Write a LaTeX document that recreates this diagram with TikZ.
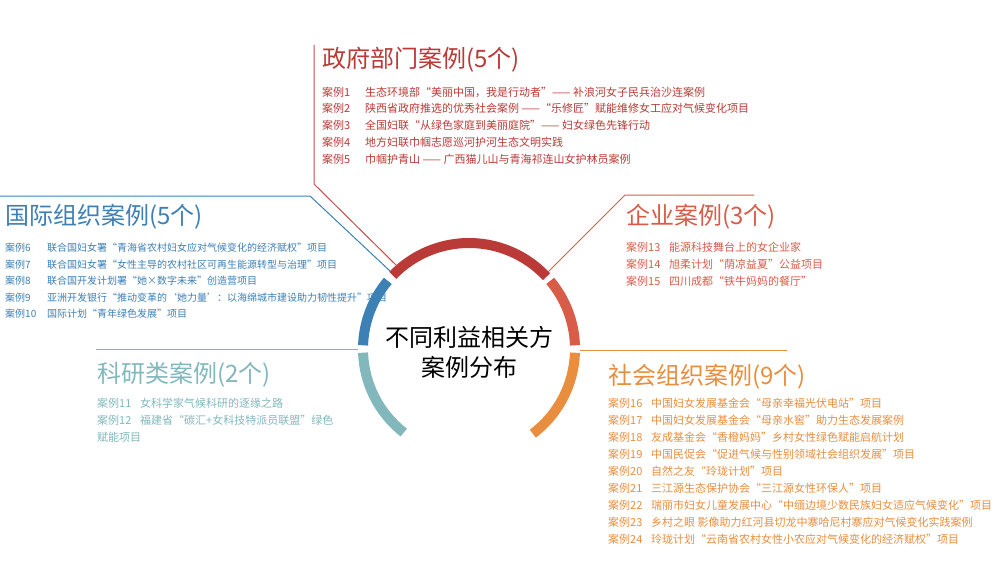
\documentclass[tikz,border=0pt]{standalone}
\usepackage{fontspec}
\usetikzlibrary{calc}
\setmainfont{Noto Sans CJK SC}
\definecolor{cgov}{HTML}{B93A36}
\definecolor{cent}{HTML}{D85C48}
\definecolor{csoc}{HTML}{E98E3E}
\definecolor{cint}{HTML}{3D80B6}
\definecolor{cres}{HTML}{82B8BC}
\definecolor{cgovl}{HTML}{C0504D}
\tikzset{
  ttl/.style={anchor=base west,inner sep=0pt,font=\fontsize{24}{24}\selectfont},
  cse/.style={anchor=base west,inner sep=0pt,font=\fontsize{11}{12}\selectfont},
  csesm/.style={anchor=base west,inner sep=0pt,font=\fontsize{10}{12}\selectfont},
  conn/.style={line width=1pt},
  seg/.style={line width=10pt}
}
\newcommand{\cs}[2]{\makebox[43pt][l]{#1}#2}
\newcommand{\csi}[2]{\makebox[42pt][l]{#1}#2}
\begin{document}
\begin{tikzpicture}[x=1pt,y=-1pt]
\useasboundingbox[fill=white] (0,0) rectangle (999,581);
\coordinate (c) at (469,349);
% ring
\draw[seg,cgov] ($(c)+(-43:106)$) arc[start angle=-43,end angle=-136,radius=106];
\draw[seg,cint] ($(c)+(-140:106)$) arc[start angle=-140,end angle=-178,radius=106];
\draw[seg,cres] ($(c)+(-182:106)$) arc[start angle=-182,end angle=-232,radius=106];
\draw[seg,csoc] ($(c)+(2:106)$) arc[start angle=2,end angle=53,radius=106];
\draw[seg,cent] ($(c)+(-2:106)$) arc[start angle=-2,end angle=-40,radius=106];
\node[font=\fontsize{24}{30}\selectfont,align=center] (center) at (469,352) {不同利益相关方\\案例分布};
% connectors
\coordinate (g1) at (314,45); \coordinate (g2) at (314,184); \coordinate (g3) at (397,266);
\draw[conn,cgovl] (g1) -- (g2) -- (g3);
\coordinate (i1) at (0,196); \coordinate (i2) at (310,196); \coordinate (i3) at (390,271);
\draw[conn,cint] (i1) -- (i2) -- (i3);
\coordinate (e1) at (548,272); \coordinate (e2) at (625,195); \coordinate (e3) at (754,195);
\draw[conn,cent] (e1) -- (e2) -- (e3);
\coordinate (s1) at (580,350); \coordinate (s2) at (787,350);
\draw[conn,csoc] (s1) -- (s2);
\coordinate (r1) at (358,349); \coordinate (r2) at (96,349);
\draw[conn,cres] (r1) -- (r2);
% government
\node[ttl,cgov] (gt) at (322,67) {政府部门案例(5个)};
\begin{scope}[every node/.style={cse,cgov}]
\node (g01) at (322,96) {\cs{案例1}{生态环境部“美丽中国，我是行动者”—— 补浪河女子民兵治沙连案例}};
\node (g02) at (322,112) {\cs{案例2}{陕西省政府推选的优秀社会案例 ——“乐修匠”赋能维修女工应对气候变化项目}};
\node (g03) at (322,129) {\cs{案例3}{全国妇联“从绿色家庭到美丽庭院”—— 妇女绿色先锋行动}};
\node (g04) at (322,146) {\cs{案例4}{地方妇联巾帼志愿巡河护河生态文明实践}};
\node (g05) at (322,163) {\cs{案例5}{巾帼护青山 —— 广西猫儿山与青海祁连山女护林员案例}};
\end{scope}
% international
\node[ttl,cint] (it) at (5,224) {国际组织案例(5个)};
\begin{scope}[every node/.style={csesm,cint}]
\node (i06) at (5,251) {\csi{案例6}{联合国妇女署“青海省农村妇女应对气候变化的经济赋权”项目}};
\node (i07) at (5,268) {\csi{案例7}{联合国妇女署“女性主导的农村社区可再生能源转型与治理”项目}};
\node (i08) at (5,284) {\csi{案例8}{联合国开发计划署“她×数字未来”创造营项目}};
\node (i09) at (5,301) {\csi{案例9}{亚洲开发银行“推动变革的‘她力量’：以海绵城市建设助力韧性提升”项目}};
\node (i10) at (5,317) {\csi{案例10}{国际计划“青年绿色发展”项目}};
\end{scope}
% enterprise
\node[ttl,cent] (et) at (626,224) {企业案例(3个)};
\begin{scope}[every node/.style={cse,cent}]
\node (e13) at (626,251) {\cs{案例13}{能源科技舞台上的女企业家}};
\node (e14) at (626,268) {\cs{案例14}{旭柔计划“荫凉益夏”公益项目}};
\node (e15) at (626,285) {\cs{案例15}{四川成都“铁牛妈妈的餐厅”}};
\end{scope}
% research
\node[ttl,cres] (rt) at (97,382) {科研类案例(2个)};
\begin{scope}[every node/.style={cse,cres}]
\node (r11) at (97,407) {\cs{案例11}{女科学家气候科研的逐缘之路}};
\node (r12) at (97,424) {\cs{案例12}{福建省“碳汇+女科技特派员联盟”绿色}};
\node (r12b) at (97,441) {赋能项目};
\end{scope}
% social
\node[ttl,csoc] (st) at (608,384) {社会组织案例(9个)};
\begin{scope}[every node/.style={cse,csoc}]
\node (s16) at (608,407) {\cs{案例16}{中国妇女发展基金会“母亲幸福光伏电站”项目}};
\node (s17) at (608,424) {\cs{案例17}{中国妇女发展基金会“母亲水窖”助力生态发展案例}};
\node (s18) at (608,441) {\cs{案例18}{友成基金会“香橙妈妈”乡村女性绿色赋能启航计划}};
\node (s19) at (608,458) {\cs{案例19}{中国民促会“促进气候与性别领域社会组织发展”项目}};
\node (s20) at (608,475) {\cs{案例20}{自然之友“玲珑计划”项目}};
\node (s21) at (608,492) {\cs{案例21}{三江源生态保护协会“三江源女性环保人”项目}};
\node (s22) at (608,509) {\cs{案例22}{瑞丽市妇女儿童发展中心“中缅边境少数民族妇女适应气候变化”项目}};
\node (s23) at (608,526) {\cs{案例23}{乡村之眼 影像助力红河县切龙中寨哈尼村寨应对气候变化实践案例}};
\node (s24) at (608,543) {\cs{案例24}{玲珑计划“云南省农村女性小农应对气候变化的经济赋权”项目}};
\end{scope}
\end{tikzpicture}
\end{document}
